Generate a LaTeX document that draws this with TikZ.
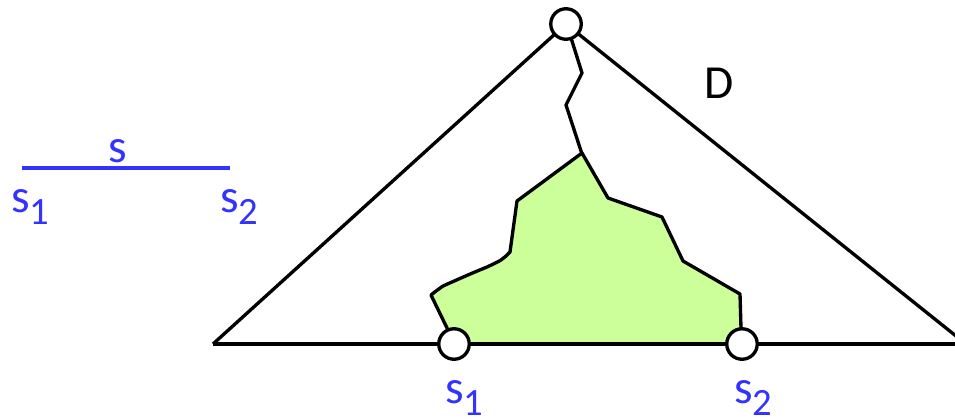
\documentclass[tikz,border=0pt]{standalone}
\usepackage{fontspec}
\setmainfont{Carlito}
\usepackage{tikz}
\usetikzlibrary{positioning}
\definecolor{sblue}{HTML}{3333FF}
\definecolor{leaf}{HTML}{CCFF99}
\definecolor{ink}{HTML}{000000}
% letter with a lowered index
\newcommand{\idx}[2]{#1\raisebox{-0.27em}{\fontsize{22}{22}\selectfont #2}}

\begin{document}
\begin{tikzpicture}[x=0.2mm,y=-0.2mm,line join=round,
  vert/.style={circle,draw=ink,fill=white,line width=1.9pt,minimum size=6.1mm,inner sep=0pt},
  edge/.style={draw=ink,line width=1.9pt},
  lbl/.style={font=\fontsize{27}{32}\selectfont,text=sblue,inner sep=0pt,anchor=base west}]
  \useasboundingbox (0,0) rectangle (955,419);
  \clip (0,0) rectangle (955,419);
  % corners of D (the right one lies past the edge)
  \coordinate (pl) at (213,344);
  \coordinate (pr) at (966,344);
  \coordinate (pt) at (566,24);
  \coordinate (p1) at (454,344);
  \coordinate (p2) at (742,344);
  % region between s1 and s2
  \filldraw[fill=leaf,draw=ink,line width=1.9pt]
    (p1) -- (447,328) -- (431,295) .. controls (436,291) .. (443,286)
    .. controls (470,274) .. (487,267) .. controls (502,260) .. (510,252)
    -- (517,201) -- (582,153) -- (608,198) -- (662,217) -- (683,261)
    -- (740,294) -- (741,328) -- (p2);
  % crack from the apex down to the region
  \draw[edge] (pt) -- (572,41) -- (582,73) -- (566,105) -- (582,154);
  % the triangle
  \draw[edge] (pl) -- (pt) -- (pr);
  \draw[edge] (pl) -- (pr);
  \node[vert] (top) at (pt) {};
  \node[vert] (s1) at (p1) {};
  \node[vert] (s2) at (p2) {};
  \node[font=\fontsize{27}{32}\selectfont,inner sep=0pt] (dlab) at (719,83) {D};
  \node[lbl] (s1lab) at (445,403) {\idx{s}{1}};
  \node[lbl] (s2lab) at (734,403) {\idx{s}{2}};
  % the segment s on its own
  \coordinate (a1) at (22,168);
  \coordinate (a2) at (230,168);
  \draw[sblue,line width=2.3pt] (a1) -- (a2);
  \node[lbl] (slab) at (108,162) {s};
  \node[lbl] (a1lab) at (11,212) {\idx{s}{1}};
  \node[lbl] (a2lab) at (220,212) {\idx{s}{2}};
\end{tikzpicture}
\end{document}
